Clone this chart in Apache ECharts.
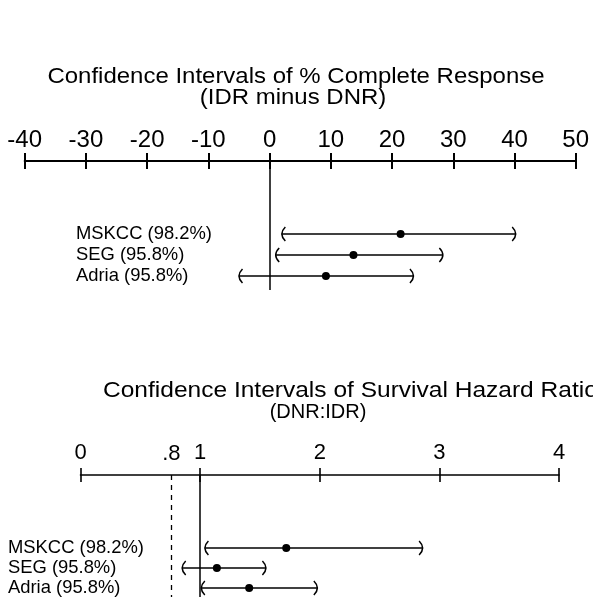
<!DOCTYPE html>
<html><head><meta charset="utf-8">
<script src="https://cdn.jsdelivr.net/npm/echarts@6/dist/echarts.min.js"></script>
<style>html,body{margin:0;padding:0;background:#fff}#c{width:593px;height:597px}</style>
</head><body><div id="c"></div>
<script>
// ---- data ----
const studies = ['MSKCC (98.2%)', 'SEG (95.8%)', 'Adria (95.8%)'];
const crLow  = [2.0, 1.0, -5.0];
const crEst  = [21.4, 13.7, 9.2];
const crHigh = [40.2, 28.3, 23.5];
const hrLow  = [1.04, 0.85, 1.01];
const hrEst  = [1.72, 1.14, 1.41];
const hrHigh = [2.86, 1.55, 1.98];
const crAxis = {min: -40, max: 50, interval: 10};
const hrAxis = {min: 0, max: 4, interval: 1};
const crRef = 0;
const hrRef = 1;
const hrMargin = 0.76;
const hrMarginLabel = '.8';
const crTitle = ['Confidence Intervals of % Complete Response', '(IDR minus DNR)'];
const hrTitle = ['Confidence Intervals of Survival Hazard Ratio', '(DNR:IDR)'];

const FONT = '"Liberation Sans", Arial, Helvetica, sans-serif';

function rows(lo, est, hi) {
  return studies.map((s, i) => [i + 1, lo[i], est[i], hi[i]]);
}

function makeRender(labelX, fontSize) {
  return function (params, api) {
    const row = api.value(0);
    const lo = api.coord([api.value(1), row]);
    const es = api.coord([api.value(2), row]);
    const hi = api.coord([api.value(3), row]);
    const y = lo[1];
    const bh = 7, bw = 3.5;
    const st = {stroke: '#000', lineWidth: 1.5, fill: null};
    return {
      type: 'group',
      children: [
        {type: 'line', shape: {x1: lo[0], y1: y, x2: hi[0], y2: y}, style: {stroke: '#000', lineWidth: 1.6}},
        {type: 'bezierCurve', shape: {x1: lo[0] + bw, y1: y - bh, x2: lo[0] + bw, y2: y + bh, cpx1: lo[0] - bw, cpy1: y}, style: st},
        {type: 'bezierCurve', shape: {x1: hi[0] - bw, y1: y - bh, x2: hi[0] - bw, y2: y + bh, cpx1: hi[0] + bw, cpy1: y}, style: st},
        {type: 'circle', shape: {cx: es[0], cy: y, r: 4}, style: {fill: '#000'}},
        {type: 'text', style: {text: studies[params.dataIndex], x: labelX, y: y, verticalAlign: 'middle', align: 'left',
          fontSize: fontSize, fontFamily: FONT, fill: '#000'}}
      ]
    };
  };
}

function axisPair(gridIndex, ax, fontSize, margin, tickLen, lw) {
  const base = {
    type: 'value', gridIndex: gridIndex, position: 'top',
    min: ax.min, max: ax.max, interval: ax.interval,
    splitLine: {show: false}
  };
  return [
    Object.assign({}, base, {
      axisLine: {show: true, onZero: false, lineStyle: {color: '#000', width: lw}},
      axisTick: {show: true, inside: false, length: tickLen, lineStyle: {color: '#000', width: lw}},
      axisLabel: {show: true, color: '#000', fontSize: fontSize, fontFamily: FONT, margin: margin,
        formatter: v => String(v)}
    }),
    Object.assign({}, base, {
      axisLine: {show: false, onZero: false},
      axisTick: {show: true, inside: true, length: tickLen, lineStyle: {color: '#000', width: lw}},
      axisLabel: {show: false}
    })
  ];
}

function titleText(txt, x, y, size, sx, align) {
  return {type: 'text', x: x, y: y, scaleX: sx, scaleY: 1,
    style: {text: txt, align: align, verticalAlign: 'middle', fontSize: size, fontFamily: FONT, fill: '#000'}};
}

const chart = echarts.init(document.getElementById('c'), null, {renderer: 'canvas'});
const xAxes = [].concat(axisPair(0, crAxis, 24, 9, 8, 2), axisPair(1, hrAxis, 22, 11, 7, 1.6));

chart.setOption({
  animation: false,
  backgroundColor: '#fff',
  grid: [
    {left: 24.7, right: 17.3, top: 161, height: 129, outerBoundsMode: 'none', containLabel: false},
    {left: 80.5, right: 34, top: 475, height: 122, outerBoundsMode: 'none', containLabel: false}
  ],
  xAxis: xAxes,
  yAxis: [
    {type: 'value', gridIndex: 0, inverse: true, min: -2.476, max: 3.667, show: false},
    {type: 'value', gridIndex: 1, inverse: true, min: -2.65, max: 3.45, show: false}
  ],
  graphic: [
    titleText(crTitle[0], 296, 77, 22, 1.09, 'center'),
    titleText(crTitle[1], 293, 98, 22, 1.09, 'center'),
    titleText(hrTitle[0], 103, 391, 22.5, 1.09, 'left'),
    titleText(hrTitle[1], 318, 412, 20, 1.0, 'center')
  ],
  series: [
    {
      type: 'custom', xAxisIndex: 0, yAxisIndex: 0,
      renderItem: makeRender(76, 18.4),
      data: rows(crLow, crEst, crHigh),
      markLine: {
        silent: true, symbol: 'none', animation: false,
        label: {show: false},
        lineStyle: {color: '#000', width: 1.5, type: 'solid'},
        data: [{xAxis: crRef}]
      }
    },
    {
      type: 'custom', xAxisIndex: 2, yAxisIndex: 1,
      renderItem: makeRender(8, 18.4),
      data: rows(hrLow, hrEst, hrHigh),
      markLine: {
        silent: true, symbol: 'none', animation: false,
        label: {show: false},
        lineStyle: {color: '#000', width: 1.5, type: 'solid'},
        data: [
          {xAxis: hrRef},
          {xAxis: hrMargin, lineStyle: {type: [5, 5], width: 1.3},
            label: {show: true, position: 'start', formatter: hrMarginLabel, color: '#000', fontSize: 22, fontFamily: FONT, distance: 10}}
        ]
      }
    }
  ]
});
</script>
</body></html>
